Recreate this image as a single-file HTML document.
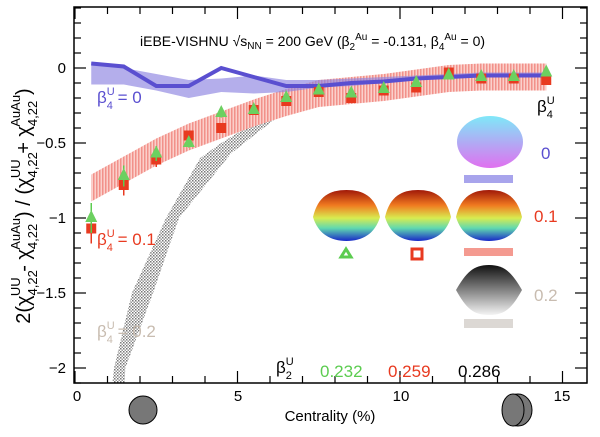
<!DOCTYPE html>
<html><head><meta charset="utf-8"><style>
body{margin:0;background:#fff;width:600px;height:432px;overflow:hidden}
svg{font-family:"Liberation Sans",sans-serif}
</style></head><body>
<svg id="s" width="600" height="432" viewBox="0 0 600 432" xmlns="http://www.w3.org/2000/svg">
<defs>
<clipPath id="cp"><rect x="74" y="7" width="513" height="376"/></clipPath>
<pattern id="hatch" width="3" height="3" patternUnits="userSpaceOnUse"><rect width="3" height="3" fill="#fff"/><rect width="1.5" height="1.5" fill="#777"/><rect x="1.5" y="1.5" width="1.5" height="1.5" fill="#999"/></pattern>
<pattern id="red" width="3" height="3" patternUnits="userSpaceOnUse"><rect width="3" height="3" fill="#fbd0cb"/><rect width="1.5" height="3" fill="#f2918a"/></pattern>
<linearGradient id="gb" x1="0" y1="0" x2="0" y2="1"><stop offset="0" stop-color="#7fe8f8"/><stop offset="1" stop-color="#e070f0"/></linearGradient>
<linearGradient id="gr" x1="0" y1="0" x2="0" y2="1"><stop offset="0" stop-color="#a01808"/><stop offset="0.3" stop-color="#f07a20"/><stop offset="0.55" stop-color="#d8ec50"/><stop offset="0.75" stop-color="#60d8b0"/><stop offset="1" stop-color="#1828c8"/></linearGradient>
<linearGradient id="gg" x1="0" y1="0" x2="0" y2="1"><stop offset="0" stop-color="#111"/><stop offset="1" stop-color="#f4f4f4"/></linearGradient>
</defs>
<g id="plot" clip-path="url(#cp)"></g>
<rect x="74" y="7" width="513" height="376" fill="none" stroke="#000" stroke-width="1.5"/>
<g id="ticks" stroke="#000" stroke-width="1.2"></g>
<g font-size="15" text-anchor="end">
<text x="66" y="73">0</text><text x="66" y="148">−0.5</text><text x="66" y="223">−1</text><text x="66" y="298">−1.5</text><text x="66" y="373">−2</text>
</g>
<g font-size="15" text-anchor="middle">
<text x="77" y="401">0</text><text x="238" y="401">5</text><text x="401" y="401">10</text><text x="562" y="401">15</text>
<text x="330" y="421">Centrality (%)</text>
</g>
<text transform="translate(30,206) rotate(-90)" font-size="20" text-anchor="middle">2(χ<tspan font-size="13" dy="7">4,22</tspan><tspan font-size="13" dy="-17" dx="-26">UU</tspan><tspan dy="10"> - χ</tspan><tspan font-size="13" dy="7">4,22</tspan><tspan font-size="13" dy="-17" dx="-26">AuAu</tspan><tspan dy="10">) / (χ</tspan><tspan font-size="13" dy="7">4,22</tspan><tspan font-size="13" dy="-17" dx="-26">UU</tspan><tspan dy="10"> + χ</tspan><tspan font-size="13" dy="7">4,22</tspan><tspan font-size="13" dy="-17" dx="-26">AuAu</tspan><tspan dy="10">)</tspan></text>
<text x="140" y="46" font-size="14">iEBE-VISHNU √s<tspan font-size="10" dy="3">NN</tspan><tspan dy="-3"> = 200 GeV (β</tspan><tspan font-size="10" dy="4">2</tspan><tspan font-size="10" dy="-10">Au</tspan><tspan dy="6"> = -0.131, β</tspan><tspan font-size="10" dy="4">4</tspan><tspan font-size="10" dy="-10">Au</tspan><tspan dy="6"> = 0)</tspan></text>
<g font-size="17">
<text x="97" y="103" fill="#5a4fd0">β<tspan font-size="11" dy="-8">U</tspan><tspan font-size="11" dy="14" dx="-8">4</tspan><tspan dy="-6"> = 0</tspan></text>
<text x="97" y="245" fill="#e83a20">β<tspan font-size="11" dy="-8">U</tspan><tspan font-size="11" dy="14" dx="-8">4</tspan><tspan dy="-6"> = 0.1</tspan></text>
<text x="97" y="337" fill="#c8bcb0">β<tspan font-size="11" dy="-8">U</tspan><tspan font-size="11" dy="14" dx="-8">4</tspan><tspan dy="-6"> = 0.2</tspan></text>
<text x="537" y="112" fill="#000">β<tspan font-size="11" dy="-8">U</tspan><tspan font-size="11" dy="14" dx="-8">4</tspan></text>
<text x="541" y="159" fill="#5a4fd0">0</text>
<text x="534" y="222" fill="#e83a20">0.1</text>
<text x="534" y="301" fill="#c8bcb0">0.2</text>
<text x="276" y="373" fill="#000">β<tspan font-size="11" dy="-8">U</tspan><tspan font-size="11" dy="14" dx="-8">2</tspan></text>
<text x="320" y="377" fill="#5ccc50">0.232</text>
<text x="388" y="377" fill="#e83a20">0.259</text>
<text x="458" y="377" fill="#000">0.286</text>
</g>
<ellipse cx="490" cy="142" rx="33" ry="26" fill="url(#gb)"/>
<rect x="464" y="175" width="49" height="8" fill="#a8a4ec"/>
<path d="M313,217 C318,196 330,190 346.5,190 C363,190 375,196 380,217 C375,234 362,241 346.5,241 C331,241 318,234 313,217Z" fill="url(#gr)"/>
<path d="M385,217 C390,196 402,190 418,190 C434,190 446,196 451,217 C446,234 434,241 418,241 C402,241 390,234 385,217Z" fill="url(#gr)"/>
<path d="M456,217 C461,196 473,190 489,190 C505,190 517,196 522,217 C517,234 505,241 489,241 C473,241 461,234 456,217Z" fill="url(#gr)"/>
<rect x="464" y="248" width="49" height="8" fill="#f49a90"/>
<path d="M489,265 C505,265 512,273 522,290 C512,308 505,315 489,315 C473,315 466,308 456,290 C466,273 473,265 489,265Z" fill="url(#gg)"/>
<rect x="464" y="319" width="49" height="9" fill="#dcd8d4"/>
<path d="M346,249 L341,257 L351,257Z" fill="none" stroke="#5ccc50" stroke-width="3"/>
<rect x="412" y="249" width="10" height="10" fill="none" stroke="#e83a20" stroke-width="3"/>
<circle cx="143" cy="410" r="14" fill="#777" stroke="#000"/>
<ellipse cx="518" cy="410" rx="14" ry="16" fill="#777" stroke="#000"/>
<ellipse cx="513" cy="410" rx="11" ry="16" fill="#777" stroke="#000"/>
</svg>
<script>
var X=function(x){return 75+32.5*x},Y=function(y){return 68-150*y};
var g=document.getElementById('plot'),ns='http://www.w3.org/2000/svg';
function el(t,a){var e=document.createElementNS(ns,t);for(var k in a)e.setAttribute(k,a[k]);g.appendChild(e);return e}
function band(xs,lo,hi,fill){var d='M';for(var i=0;i<xs.length;i++)d+=X(xs[i])+','+Y(hi[i])+' L';for(var i=xs.length-1;i>=0;i--)d+=X(xs[i])+','+Y(lo[i])+(i?' L':'Z');el('path',{d:d,fill:fill})}
function poly(up,lo,fill){var pts=up.concat(lo.slice().reverse());el('path',{d:'M'+pts.map(function(p){return X(p[0])+','+Y(p[1])}).join(' L')+'Z',fill:fill})}
var xs=[0.5,1.5,2.5,3.5,4.5,5.5,6.5,7.5,8.5,9.5,10.5,11.5,12.5,13.5,14.5];
poly([[1.5,-2.2],[1.55,-2],[2.4,-1.5],[3.2,-1],[4.8,-0.57],[5.5,-0.45],[7,-0.2],[8,-0.1],[10,-0.07],[14.5,-0.03]],
     [[1.1,-2.2],[1.2,-2],[1.75,-1.5],[2.8,-1],[3.85,-0.6],[4.5,-0.5],[6,-0.3],[7.3,-0.17],[9,-0.15],[11,-0.12],[14.5,-0.09]],'url(#hatch)');
var rc=[-0.8,-0.68,-0.56,-0.46,-0.38,-0.3,-0.23,-0.17,-0.15,-0.13,-0.1,-0.07,-0.06,-0.06,-0.06];
band(xs,rc.map(function(v){return v-0.09}),rc.map(function(v){return v+0.09}),'url(#red)');
var bl=[-0.11,-0.11,-0.15,-0.2,-0.16,-0.17,-0.16,-0.13,-0.12,-0.1,-0.08,-0.06,-0.06,-0.06,-0.06];
var bh=[0.04,0.0,-0.04,-0.08,-0.07,-0.05,-0.08,-0.08,-0.07,-0.06,-0.05,-0.04,-0.03,-0.03,-0.03];
band(xs,bl,bh,'rgba(140,130,225,0.65)');
var bc=[0.03,0.01,-0.12,-0.12,0,-0.06,-0.12,-0.12,-0.1,-0.09,-0.07,-0.06,-0.05,-0.05,-0.05];
el('polyline',{points:xs.map(function(x,i){return X(x)+','+Y(bc[i])}).join(' '),fill:'none',stroke:'#5a4fd0','stroke-width':4});
var rs=[-1.07,-0.78,-0.61,-0.45,-0.4,-0.28,-0.22,-0.16,-0.2,-0.15,-0.13,-0.03,-0.07,-0.07,-0.08];
var gs=[-1.0,-0.72,-0.57,-0.5,-0.3,-0.28,-0.2,-0.15,-0.17,-0.14,-0.1,-0.05,-0.06,-0.06,-0.03];
var re=[0.1,0.07,0.05,0.03,0.03,0.02,0.02,0.02,0.02,0.01,0.01,0.01,0.01,0.01,0.01];
xs.forEach(function(x,i){
 el('line',{x1:X(x),x2:X(x),y1:Y(rs[i]-re[i]),y2:Y(rs[i]+re[i]),stroke:'#e83a20','stroke-width':1.5});
 el('rect',{x:X(x)-5,y:Y(rs[i])-5,width:10,height:10,fill:'#e83a20'});
 el('line',{x1:X(x),x2:X(x),y1:Y(gs[i]-re[i]),y2:Y(gs[i]+re[i]),stroke:'#5ccc50','stroke-width':1.5});
 el('path',{d:'M'+X(x)+','+(Y(gs[i])-8)+' l-6,12 l12,0Z',fill:'#6cd060'});
});
var t=document.getElementById('ticks');
function tk(a){var e=document.createElementNS(ns,'line');for(var k in a)e.setAttribute(k,a[k]);t.appendChild(e)}
for(var v=0;v<=15.5;v+=1){var L=(v%5==0)?12:7;tk({x1:X(v),x2:X(v),y1:383,y2:383-L});tk({x1:X(v),x2:X(v),y1:7,y2:7+L})}
for(var v=-2.1;v<=0.41;v+=0.1){var r=Math.round(v*10);var L=(r%5==0)?12:7;tk({x1:74,x2:74+L,y1:Y(r/10),y2:Y(r/10)});tk({x1:587,x2:587-L,y1:Y(r/10),y2:Y(r/10)})}
</script>
</body></html>
